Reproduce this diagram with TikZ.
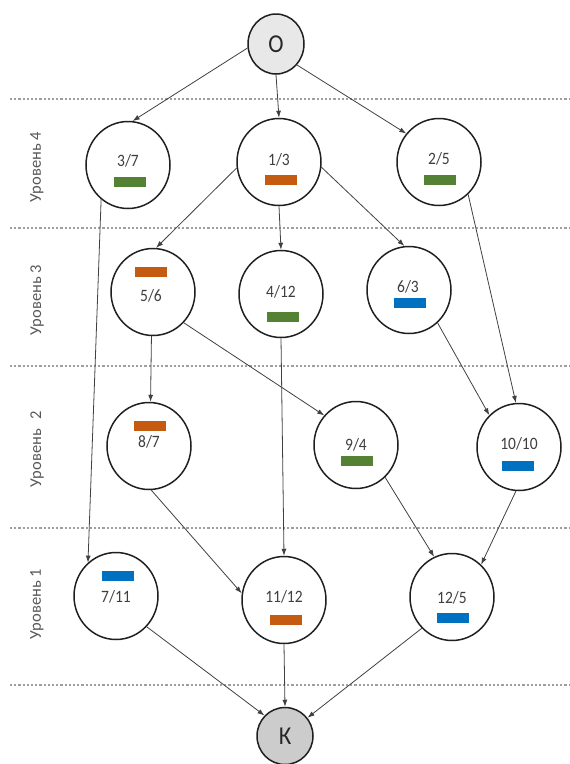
\documentclass[tikz,border=0pt]{standalone}
\usepackage{fontspec}
\usepackage{graphicx}
\setmainfont{Carlito}
\usetikzlibrary{shapes.geometric,arrows.meta}
\definecolor{org}{HTML}{C55A11}
\definecolor{grn}{HTML}{548235}
\definecolor{blu}{HTML}{0070C0}
\definecolor{txt}{HTML}{3F3F3F}
\definecolor{lbl}{HTML}{595959}
\definecolor{edge}{HTML}{404040}
\newcommand\vtx[1]{\scalebox{1}[1.12]{#1}}
\tikzset{
  evt/.style={ellipse, draw=black!88, line width=1.5pt, fill=white, inner sep=0pt,
              minimum width=84pt, minimum height=87pt},
  term/.style={ellipse, draw=black!88, line width=1.5pt, inner sep=0pt,
              minimum width=56pt, minimum height=60pt,
              font=\fontsize{23}{24}\selectfont, text=black!85},
  val/.style={inner sep=0pt, text=txt, font=\fontsize{15.5}{16}\selectfont},
  bar/.style={rectangle, draw=none, inner sep=0pt, minimum width=32pt, minimum height=10pt},
  lvl/.style={inner sep=0pt, text=lbl, rotate=90, font=\fontsize{16.5}{17}\selectfont},
  sep/.style={draw=gray!75, line width=1.3pt, dash pattern=on 2.2pt off 2pt},
  arr/.style={draw=edge, line width=0.8pt, -{Latex[length=7pt,width=5pt]}}
}
\begin{document}
\begin{tikzpicture}[x=1pt,y=-1pt]
\useasboundingbox (0,0) rectangle (570,764);
% separators
\coordinate (s1a) at (10,99);  \coordinate (s1b) at (570,99);
\coordinate (s2a) at (10,228); \coordinate (s2b) at (570,228);
\coordinate (s3a) at (10,366); \coordinate (s3b) at (570,366);
\coordinate (s4a) at (10,528); \coordinate (s4b) at (570,528);
\coordinate (s5a) at (10,685); \coordinate (s5b) at (570,685);
\draw[sep] (s1a) -- (s1b);
\draw[sep] (s2a) -- (s2b);
\draw[sep] (s3a) -- (s3b);
\draw[sep] (s4a) -- (s4b);
\draw[sep] (s5a) -- (s5b);
% level labels
\node[lvl] (L4) at (37,167) {Уровень 4};
\node[lvl] (L3) at (37,300) {Уровень 3};
\node[lvl] (L2) at (37,449) {Уровень\hspace{0.6em}2};
\node[lvl] (L1) at (37,604) {Уровень 1};
% nodes
\node[term, fill=black!9] (O) at (276,44) {\vtx{О}};
\node[evt] (n37) at (128,165) {};
\node[evt] (n13) at (279,162) {};
\node[evt] (n25) at (439,162) {};
\node[evt] (n56) at (153,292) {};
\node[evt] (n412) at (281,294) {};
\node[evt] (n63) at (409,290) {};
\node[evt] (n87) at (149,446) {};
\node[evt] (n94) at (356,445) {};
\node[evt] (n1010) at (519,447) {};
\node[evt] (n711) at (116,596) {};
\node[evt] (n1112) at (284,600) {};
\node[evt] (n125) at (452,597) {};
\node[term, fill=black!20, minimum height=57pt] (K) at (285,736) {\vtx{К}};
% texts and bars
\node[val] (t37) at (128,161) {\vtx{3/7}};
\node[bar, fill=grn] (b37) at (130,182) {};
\node[val] (t13) at (279,160) {\vtx{1/3}};
\node[bar, fill=org] (b13) at (281,180) {};
\node[val] (t25) at (439,159) {\vtx{2/5}};
\node[bar, fill=grn] (b25) at (440,180) {};
\node[bar, fill=org] (b56) at (151,272) {};
\node[val] (t56) at (151,296) {\vtx{5/6}};
\node[val] (t412) at (281,292) {\vtx{4/12}};
\node[bar, fill=grn] (b412) at (283,317) {};
\node[val] (t63) at (408,287) {\vtx{6/3}};
\node[bar, fill=blu] (b63) at (410,303) {};
\node[bar, fill=org] (b87) at (150,426) {};
\node[val] (t87) at (149,442) {\vtx{8/7}};
\node[val] (t94) at (356,445) {\vtx{9/4}};
\node[bar, fill=grn] (b94) at (357,461) {};
\node[val] (t1010) at (519,444) {\vtx{10/10}};
\node[bar, fill=blu] (b1010) at (518,466) {};
\node[bar, fill=blu] (b711) at (118,576) {};
\node[val] (t711) at (116,597) {\vtx{7/11}};
\node[val] (t1112) at (284,597) {\vtx{11/12}};
\node[bar, fill=org] (b1112) at (286,620) {};
\node[val] (t125) at (452,598) {\vtx{12/5}};
\node[bar, fill=blu] (b125) at (453,618) {};
% connectors
\draw[arr] (O.188) -- (n37.84);
\draw[arr] (O.south) -- (n13.north);
\draw[arr] (O.-45) -- (n25.139);
\draw[arr] (n37.-128) -- (n711.130);
\draw[arr] (n13.-172) -- (n56.86);
\draw[arr] (n13.south) -- (n412.north);
\draw[arr] (n13.-7) -- (n63.96);
\draw[arr] (n25.-48) -- (n1010.94);
\draw[arr] (n56.-92) -- (n87.88);
\draw[arr] (n56.-45) -- (n94.137);
\draw[arr] (n412.south) -- (n1112.north);
\draw[arr] (n63.-49) -- (n1010.133);
\draw[arr] (n87.-87) -- (n1112.171);
\draw[arr] (n94.-48) -- (n125.114);
\draw[arr] (n1010.-94) -- (n125.48);
\draw[arr] (n711.-45) -- (K.135);
\draw[arr] (n1112.south) -- (K.north);
\draw[arr] (n125.-134) -- (K.39);
\end{tikzpicture}
\end{document}
